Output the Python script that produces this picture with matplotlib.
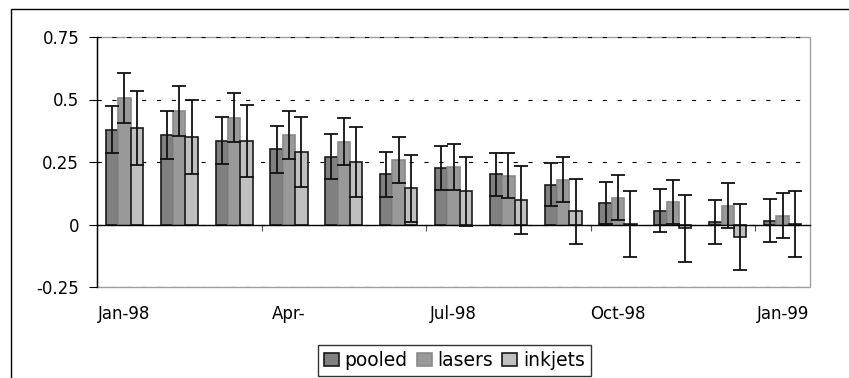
import numpy as np
import matplotlib
matplotlib.use("Agg")
import matplotlib.pyplot as plt
from matplotlib.patches import Rectangle

months = ["Jan-98", "Feb-98", "Mar-98", "Apr-98", "May-98", "Jun-98", "Jul-98",
          "Aug-98", "Sep-98", "Oct-98", "Nov-98", "Dec-98", "Jan-99"]
tick_labels = ["Jan-98", "Apr-", "Jul-98", "Oct-98", "Jan-99"]

pooled = [0.38, 0.359, 0.335, 0.301, 0.271, 0.201, 0.225, 0.201, 0.16, 0.087, 0.056, 0.012, 0.016]
pooled_err = [0.095, 0.095, 0.093, 0.093, 0.09, 0.09, 0.088, 0.086, 0.087, 0.083, 0.087, 0.088, 0.085]
lasers = [0.505, 0.455, 0.427, 0.36, 0.331, 0.26, 0.231, 0.196, 0.18, 0.107, 0.091, 0.075, 0.035]
lasers_err = [0.1, 0.1, 0.098, 0.096, 0.093, 0.092, 0.093, 0.091, 0.091, 0.09, 0.089, 0.09, 0.09]
inkjets = [0.385, 0.351, 0.335, 0.289, 0.249, 0.145, 0.133, 0.099, 0.053, 0.003, -0.015, -0.049, 0.001]
inkjets_err = [0.148, 0.149, 0.145, 0.14, 0.14, 0.135, 0.137, 0.135, 0.131, 0.132, 0.135, 0.131, 0.132]

plt.rcParams['font.family'] = ['DejaVu Sans']
plt.rcParams['font.size'] = 12
plt.rcParams['lines.scale_dashes'] = False

fig = plt.figure(figsize=(8.49, 3.78), dpi=100)
ax = fig.add_axes([97 / 849, 1 - 287 / 378, (810 - 97) / 849, (287 - 37) / 378])

x = np.arange(len(months))
w = 0.226
series = [
    ("pooled", pooled, pooled_err, "#808080", "#1a1a1a", -w),
    ("lasers", lasers, lasers_err, "#999999", "#8a8a8a", 0),
    ("inkjets", inkjets, inkjets_err, "#c0c0c0", "#1a1a1a", w),
]
for name, vals, errs, fc, ec, off in series:
    ax.bar(x + off, vals, w, color=fc, edgecolor=ec, linewidth=1.2, label=name, zorder=2)
    ax.errorbar(x + off, vals, yerr=errs, fmt="none", ecolor="#111111",
                elinewidth=1.3, capsize=5, capthick=1.3, zorder=3)

ax.set_xlim(-0.5, len(months) - 0.5)
ax.set_ylim(-0.25, 0.75)
ax.set_yticks([-0.25, 0, 0.25, 0.5, 0.75])
ax.set_yticklabels(["-0.25", "0", "0.25", "0.5", "0.75"])
ax.yaxis.grid(True, color="black", linestyle=(0, (3, 7.7)), linewidth=0.8)
ax.set_axisbelow(True)
ax.tick_params(axis="y", direction="out", length=5.8, width=0.8, pad=7)

# zero line with small ticks between quarters
for s in ["top", "right"]:
    ax.spines[s].set_visible(False)
ax.spines["bottom"].set_position(("data", 0))
ax.spines["bottom"].set_linewidth(1)
ax.spines["left"].set_linewidth(1)
ax.set_xticks([])
ax.set_xticks([2.5, 5.5, 8.5, 11.5], minor=True)
ax.tick_params(axis="x", which="minor", direction="out", length=4.3, width=0.8, color="#555555")

# plot area border
ax.add_patch(Rectangle((0, 0), 1, 1, transform=ax.transAxes, fill=False,
                       edgecolor="#a0a0a0", linewidth=1, zorder=0.5, clip_on=False))

sec = ax.secondary_xaxis(0)
sec.set_xticks(x[::3])
sec.set_xticklabels(tick_labels)
sec.tick_params(length=0, pad=13)
sec.spines["bottom"].set_visible(False)

# outer chart frame
fig.patches.append(Rectangle((11 / 849, -0.2), 1.2, 1.2 - 9 / 378, transform=fig.transFigure,
                             fill=False, edgecolor="black", linewidth=1))

leg = fig.legend(loc="center", bbox_to_anchor=(0.535, 0.046), ncol=3, frameon=True,
                 fontsize=13.5, fancybox=False, edgecolor="black", handlelength=0.8,
                 handleheight=0.65, handletextpad=0.3, columnspacing=0.5,
                 borderpad=0.3, borderaxespad=0)
leg.get_frame().set_linewidth(1)

fig.savefig("out.png", dpi=100)
